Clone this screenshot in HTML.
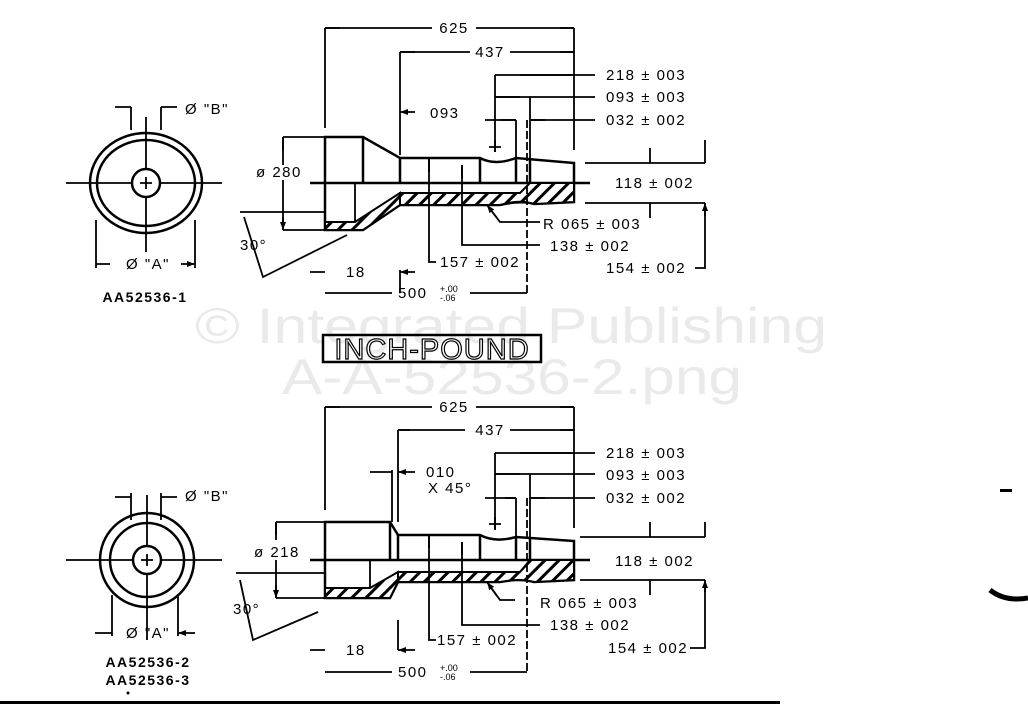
<!DOCTYPE html>
<html><head><meta charset="utf-8"><style>
html,body{margin:0;padding:0;background:#fff;}
svg{display:block}
text{font-family:"Liberation Sans",sans-serif;fill:#000;}
.t{font-size:15px;letter-spacing:1.5px;}
</style></head><body>
<svg width="1028" height="704" viewBox="0 0 1028 704" xmlns="http://www.w3.org/2000/svg">
<defs>
<pattern id="h" patternUnits="userSpaceOnUse" width="10" height="10" patternTransform="rotate(45)">
<rect width="10" height="10" fill="#fff"/><rect width="3" height="10" fill="#000"/></pattern>
<marker id="a" markerWidth="8" markerHeight="6" refX="8" refY="3" orient="auto" markerUnits="userSpaceOnUse"><path d="M0,0 L8,3 L0,6z" fill="#000"/></marker>
</defs>
<!-- watermark -->
<text x="511" y="343" text-anchor="middle" style="font-size:50px;fill:#eaeaea" textLength="632" lengthAdjust="spacingAndGlyphs">© Integrated Publishing</text>
<text x="512" y="394" text-anchor="middle" style="font-size:50px;fill:#eaeaea" textLength="460" lengthAdjust="spacingAndGlyphs">A-A-52536-2.png</text>
<rect x="323" y="335" width="218" height="27" fill="none" stroke="#000" stroke-width="2.5"/>
<text x="432" y="359" text-anchor="middle" style="font-size:29px;fill:#fff;stroke:#000;stroke-width:1.2;letter-spacing:1px">INCH-POUND</text>

<g stroke="#000" stroke-width="1.8" fill="none">
<!-- TOP left view -->
<ellipse cx="146" cy="183" rx="56" ry="50" stroke-width="2.5"/>
<ellipse cx="146" cy="183" rx="49" ry="43" stroke-width="2.5"/>
<circle cx="146" cy="183" r="14" stroke-width="2.5"/>
<path d="M66,183H132M160,183H222M146,117V169M146,197V252M140,183H152M146,177V189"/>
<path d="M131,107V130M161,107V130M96,220V268M195,220V268"/>
<path d="M115,107H131M177,107H161M110,264H96M181,264H195" marker-end="url(#a)"/>

<!-- TOP part -->
<g stroke-width="2.5">
<path d="M325,137H363L400,158H480Q495,166 516,158L574,163V202L534,204Q522,200 500,205H400L363,230H325Z"/>
<path d="M363,137V183M400,158V183M480,158V183M516,158V183M530,158V183"/>
<path d="M310,183H590"/>
</g>
<path d="M400,193H520L530,183H574V202L534,204Q520,199 500,205H400Z" fill="url(#h)" stroke-width="2"/>
<path d="M400,193L355,222L325,222V230H363L400,205Z" fill="url(#h)" stroke-width="2"/>
<path d="M355,183V222"/>
<!-- top dims -->
<path d="M325,28V128M400,52V155M574,28V150M495,75V152M516,120V158M530,97V158"/>
<path d="M527,120V293" stroke-dasharray="8,3"/>
<path d="M325,28H432M476,28H574M400,52H470M510,52H574M495,75H595M495,97H595M530,120H595M485,120H516"/>
<path d="M340,28H325M560,28H574M415,52H400M560,52H574M520,75H574M520,97H495M500,120H516M545,120H530M415,112H400" marker-end="url(#a)"/>
<path d="M495,140V152M489,147H501"/>
<path d="M585,163H705M585,203H705M705,203V268H695"/>
<path d="M650,148V163M650,218V203M705,140V163M705,216V203" marker-end="url(#a)"/>
<path d="M283,137V165M283,180V230M283,137H325M283,230H325"/>
<path d="M283,150V137M283,217V230" marker-end="url(#a)"/>
<path d="M240,212H325M347,235L263,277L244,217"/>
<path d="M310,272H325M415,272H400" marker-end="url(#a)"/>
<path d="M325,293H392M470,293H527"/>
<path d="M462,165V245H540M429,158V262H436M487,205L500,222H540"/>
<path d="M462,178V165M429,172V158M497,218L487,205" marker-end="url(#a)"/>
<path d="M400,270V293"/>

<!-- BOTTOM left view -->
<circle cx="147" cy="560" r="47" stroke-width="2.5"/>
<circle cx="147" cy="560" r="37" stroke-width="2.5"/>
<circle cx="147" cy="560" r="14" stroke-width="2.5"/>
<path d="M66,560H133M161,560H222M147,495V546M147,574V640M141,560H153M147,554V566"/>
<path d="M131,493V520M161,493V520M112,595V636M178,595V636"/>
<path d="M115,497H131M177,497H161M95,633H112M195,633H178" marker-end="url(#a)"/>

<!-- BOTTOM part -->
<g stroke-width="2.5">
<path d="M325,522H390L398,535H480Q495,543 516,537L574,541V580L534,582Q520,578 500,582H398L390,598H325Z"/>
<path d="M390,522V560M398,535V560M480,535V560M516,537V560M530,537V560"/>
<path d="M310,560H590"/>
</g>
<path d="M398,572H520L530,560H574V580L534,582Q520,578 500,582H398Z" fill="url(#h)" stroke-width="2"/>
<path d="M398,572L370,588H325V598H390L398,582Z" fill="url(#h)" stroke-width="2"/>
<path d="M370,560V588"/>
<!-- bottom dims -->
<path d="M325,407V510M398,430V522M392,470V522M574,407V528M495,453V530M516,498V537M530,474V537"/>
<path d="M527,498V672" stroke-dasharray="8,3"/>
<path d="M325,407H432M476,407H574M398,430H465M510,430H574M495,453H595M495,474H595M530,498H595M485,498H516"/>
<path d="M340,407H325M560,407H574M410,430H398M560,430H574M520,453H574M520,474H495M505,498H516M545,498H530M370,472H392M415,472H398" marker-end="url(#a)"/>
<path d="M495,517V530M489,524H501"/>
<path d="M580,537H705M580,580H705M705,580V648H690"/>
<path d="M650,522V537M650,595V580M705,522V537M705,592V580" marker-end="url(#a)"/>
<path d="M276,522V540M276,560V598M276,522H325M276,598H325"/>
<path d="M276,535V522M276,585V598" marker-end="url(#a)"/>
<path d="M236,573H325M318,612L253,640L240,580"/>
<path d="M310,650H325M415,650H398" marker-end="url(#a)"/>
<path d="M325,672H392M470,672H527"/>
<path d="M462,542V625H540M429,535V640H436M487,582L500,600H515"/>
<path d="M462,555V542M429,548V535M497,596L487,582" marker-end="url(#a)"/>
<path d="M398,620V650"/>
</g>

<!-- text -->
<g class="t">
<text x="454" y="33" text-anchor="middle">625</text>
<text x="490" y="57" text-anchor="middle">437</text>
<text x="606" y="80">218 ± 003</text>
<text x="606" y="102">093 ± 003</text>
<text x="606" y="125">032 ± 002</text>
<text x="430" y="118">093</text>
<text x="256" y="177">ø 280</text>
<text x="615" y="188">118 ± 002</text>
<text x="543" y="229">R 065 ± 003</text>
<text x="550" y="251">138 ± 002</text>
<text x="440" y="267">157 ± 002</text>
<text x="606" y="273">154 ± 002</text>
<text x="240" y="250">30°</text>
<text x="346" y="277">18</text>
<text x="398" y="298">500</text>
<text x="440" y="292" style="font-size:9px;letter-spacing:0">+.00</text>
<text x="440" y="301" style="font-size:9px;letter-spacing:0">-.06</text>
<text x="185" y="114">Ø "B"</text>
<text x="126" y="269">Ø "A"</text>
<text x="145" y="302" text-anchor="middle" style="font-size:14px;font-weight:bold;letter-spacing:1.5px">AA52536-1</text>

<text x="454" y="412" text-anchor="middle">625</text>
<text x="490" y="435" text-anchor="middle">437</text>
<text x="606" y="458">218 ± 003</text>
<text x="606" y="480">093 ± 003</text>
<text x="606" y="503">032 ± 002</text>
<text x="426" y="477">010</text>
<text x="428" y="493">X 45°</text>
<text x="254" y="557">ø  218</text>
<text x="615" y="566">118 ± 002</text>
<text x="540" y="608">R 065 ± 003</text>
<text x="550" y="630">138 ± 002</text>
<text x="437" y="645">157 ± 002</text>
<text x="608" y="653">154 ± 002</text>
<text x="233" y="614">30°</text>
<text x="346" y="655">18</text>
<text x="398" y="677">500</text>
<text x="440" y="671" style="font-size:9px;letter-spacing:0">+.00</text>
<text x="440" y="680" style="font-size:9px;letter-spacing:0">-.06</text>
<text x="185" y="501">Ø "B"</text>
<text x="126" y="638">Ø "A"</text>
<text x="148" y="667" text-anchor="middle" style="font-size:14px;font-weight:bold;letter-spacing:1.5px">AA52536-2</text>
<text x="148" y="685" text-anchor="middle" style="font-size:14px;font-weight:bold;letter-spacing:1.5px">AA52536-3</text>
</g>
<circle cx="128" cy="693" r="1.5" fill="#000"/>
<rect x="0" y="701" width="780" height="3" fill="#000"/>
<rect x="1000" y="489" width="12" height="3" fill="#000"/>
<path d="M990,590 Q1005,602 1028,598" stroke="#000" stroke-width="5" fill="none"/>
</svg>
</body></html>
